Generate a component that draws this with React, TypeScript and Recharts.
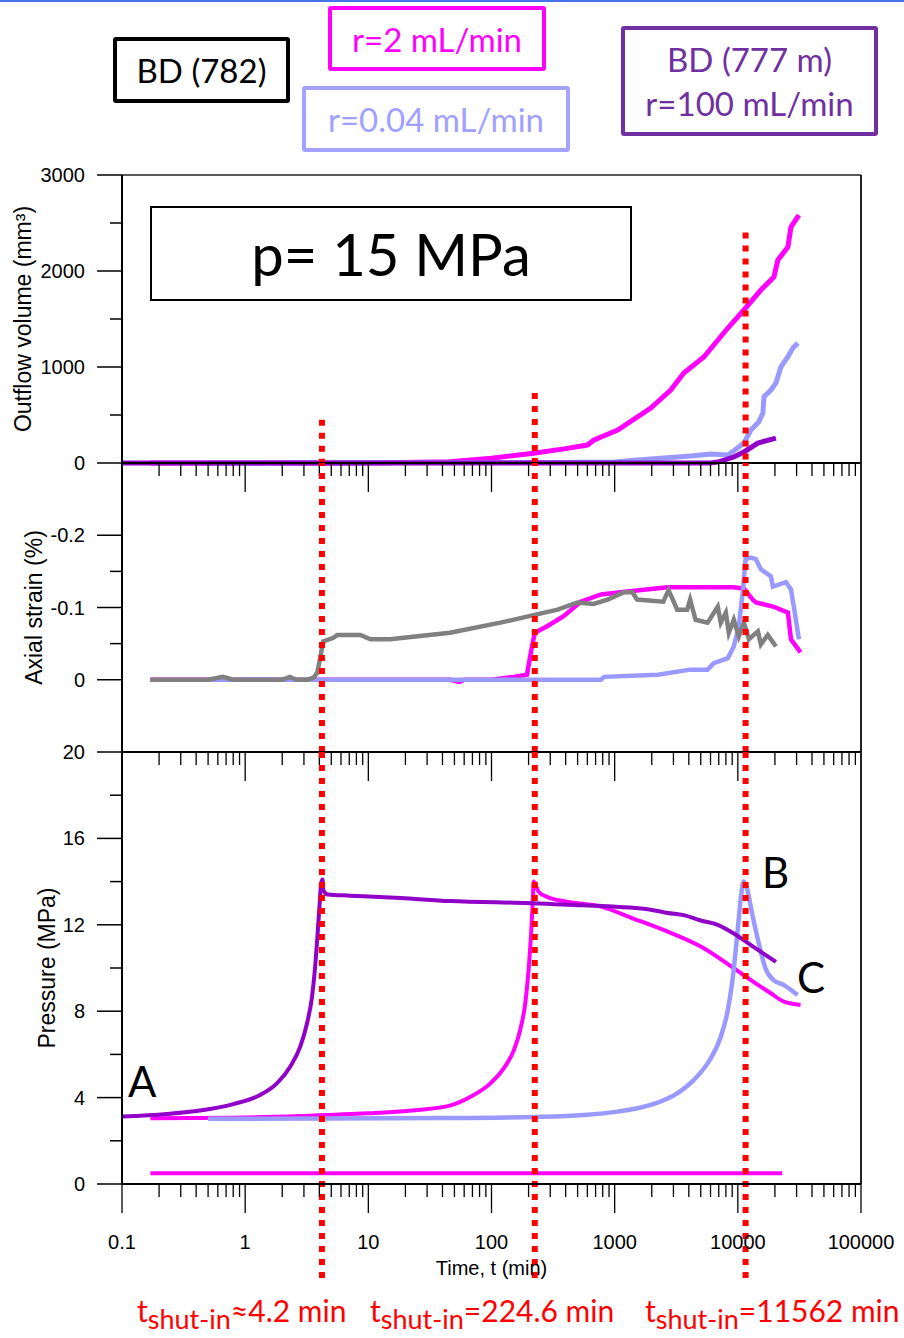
import React from 'react';
import { LineChart, Line, XAxis, YAxis, ReferenceLine } from 'recharts';

// time axis (min), log scale
const decades = [0.1, 1, 10, 100, 1000, 10000, 100000];
const xTickLabels = ['0.1', '1', '10', '100', '1000', '10000', '100000'];

// shut-in times and where each red marker starts in the outflow panel (mm3)
const shutInTimes = [4.2, 224.6, 11562];
const shutInTops = [450, 730, 2400];

// y ticks
const outflowTicks = [0, 500, 1000, 1500, 2000, 2500, 3000];
const outflowMajor = [0, 1000, 2000, 3000];
const outflowLabels = ['0', '1000', '2000', '3000'];
const strainTicks = [-0.2, -0.15, -0.1, -0.05, 0];
const strainMajor = [-0.2, -0.1, 0];
const strainLabels = ['-0.2', '-0.1', '0'];
const pressureTicks = [0, 2, 4, 6, 8, 10, 12, 14, 16, 18, 20];
const pressureMajor = [0, 4, 8, 12, 16, 20];
const pressureLabels = ['0', '4', '8', '12', '16', '20'];

// outflow volume (mm3) vs t
const outflowR2 = [[0.17, 0], [10, 0], [46, 14], [100, 50], [219, 101], [400, 150], [600, 187], [680, 240], [1058, 344], [1963, 573], [2852, 760], [3640, 937], [5295, 1104], [8300, 1406], [11200, 1594], [15380, 1802], [19630, 1937], [21150, 2115], [25500, 2250], [27000, 2458], [31330, 2583]];
const outflowR004 = [[0.5, 0], [300, 5], [1000, 10], [1427, 30], [2700, 55], [4150, 73], [6030, 94], [8300, 83], [9470, 135], [11200, 208], [12760, 344], [14820, 430], [15970, 520], [16300, 690], [18540, 760], [20380, 833], [22400, 1003], [25500, 1107], [28000, 1198], [30760, 1250]];
const outflowR100 = [[0.1, 0], [6000, 0], [6870, 10], [9270, 62], [11200, 115], [14550, 208], [20380, 260]];

// axial strain (%) vs t
const strainBD782 = [[0.17, 0], [0.5, 0], [0.66, -0.004], [0.8, 0], [2.0, 0], [2.3, -0.004], [2.6, 0], [3.2, 0], [3.6, -0.003], [3.85, -0.01], [4.06, -0.03], [4.3, -0.053], [5.2, -0.058], [5.6, -0.062], [8.6, -0.062], [10.4, -0.056], [15, -0.056], [46, -0.065], [118, -0.079], [344, -0.097], [500, -0.107], [675, -0.105], [877, -0.111], [1183, -0.121], [1390, -0.121], [1520, -0.111], [2480, -0.108], [2740, -0.124], [3220, -0.097], [3880, -0.097], [4100, -0.111], [4540, -0.083], [5680, -0.079], [6870, -0.101], [7270, -0.079], [7990, -0.093], [8450, -0.065], [9270, -0.083], [10180, -0.06], [11200, -0.079], [12300, -0.056], [14550, -0.067], [15380, -0.049], [17500, -0.062], [20380, -0.046]];
const strainR2 = [[0.17, 0], [46, 0], [55, 0.003], [60, 0], [100, 0], [151, -0.004], [194, -0.007], [213, -0.046], [225, -0.065], [283, -0.074], [385, -0.088], [530, -0.108], [775, -0.118], [1260, -0.122], [2700, -0.128], [9270, -0.128], [11200, -0.126], [13200, -0.111], [14000, -0.107], [19600, -0.101], [25500, -0.093], [27000, -0.056], [32300, -0.038]];
const strainR004 = [[0.5, 0], [775, 0], [820, -0.004], [2240, -0.007], [4100, -0.014], [5680, -0.014], [6380, -0.023], [8300, -0.03], [9270, -0.046], [10180, -0.074], [10950, -0.121], [11560, -0.167], [12760, -0.169], [14000, -0.167], [15380, -0.153], [18540, -0.143], [19260, -0.129], [24600, -0.135], [27000, -0.125], [28500, -0.101], [31330, -0.056]];

// pressure (MPa) vs t
const pressureR100 = [[0.1, 3.12], [0.23, 3.24], [0.43, 3.4], [0.8, 3.7], [1.32, 4.12], [1.81, 4.66], [2.32, 5.43], [2.8, 6.36], [3.18, 7.44], [3.49, 8.67], [3.7, 10.06], [3.86, 11.45], [4.01, 12.84], [4.14, 13.92], [4.25, 14.1], [4.3, 13.6], [4.7, 13.4], [7.1, 13.35], [18.2, 13.24], [46, 13.1], [206, 13.0], [560, 12.9], [1960, 12.7], [2700, 12.55], [3640, 12.45], [5000, 12.2], [6870, 12.0], [9270, 11.6], [12760, 11.06], [20380, 10.28]];
const pressureR2 = [[0.17, 3.04], [0.8, 3.07], [2.8, 3.15], [9.8, 3.27], [25, 3.43], [46, 3.63], [67.5, 4.04], [98, 4.66], [126, 5.36], [152, 6.2], [171, 7.13], [188, 8.37], [200, 9.9], [209, 11.45], [216, 13.0], [220, 14.0], [241, 13.53], [281, 13.3], [407, 13.07], [775, 12.84], [1400, 12.3], [2700, 11.68], [5000, 10.99], [9270, 9.99], [12760, 9.44], [18540, 8.83], [23700, 8.44], [32300, 8.29]];
const pressureR004 = [[0.5, 3.02], [46, 3.05], [219, 3.1], [560, 3.19], [1058, 3.35], [1960, 3.66], [3220, 4.2], [4380, 4.81], [6030, 5.82], [7270, 6.82], [8190, 7.9], [8980, 9.29], [9560, 10.68], [10150, 12.22], [10600, 13.3], [11130, 14.0], [11850, 13.69], [13050, 12.53], [14800, 11.14], [16750, 9.99], [19500, 9.44], [23700, 9.21], [30500, 8.75]];
const pressureR2Base = [[0.17, 0.5], [22900, 0.5]];

const MAGENTA = '#ff00ff';
const LIGHT = '#9999ff';
const PURPLE = '#9000c8';
const GREY = '#808080';
const RED = '#ff0000';
const AXIS_FONT = '"Liberation Sans", Arial, sans-serif';
const BOX_FONT = 'Lato, "Open Sans", sans-serif';

const pts = (arr: number[][]) => arr.map(([t, v]) => ({ t, v }));

// minor ticks 1..9 per decade
const xTicks: number[] = [];
decades.forEach((d, i) => {
  if (i === decades.length - 1) { xTicks.push(d); return; }
  for (let k = 1; k < 10; k++) xTicks.push(+(d * k).toPrecision(3));
});

const XTick = ({ x, y, payload, showLabels }: any) => {
  const idx = decades.findIndex((d) => Math.abs(d - payload.value) < 1e-9 * d);
  const major = idx >= 0;
  return (
    <g>
      <line x1={x} x2={x} y1={y} y2={y + (major ? 29 : 13)} stroke="#000" strokeWidth={1.3} />
      {showLabels && major && (
        <text x={x} y={y + 58} textAnchor="middle" dominantBaseline="central" fontSize={20} fontFamily={AXIS_FONT} fill="#000">
          {xTickLabels[idx]}
        </text>
      )}
    </g>
  );
};

const YTick = ({ x, y, payload, majors, labels }: any) => {
  const idx = majors.findIndex((m: number) => Math.abs(m - payload.value) < 1e-9);
  const major = idx >= 0;
  return (
    <g>
      <line x1={x - (major ? 25 : 12)} x2={x} y1={y} y2={y} stroke="#000" strokeWidth={1.5} />
      {major && (
        <text x={x - 37} y={y} textAnchor="end" dominantBaseline="central" fontSize={20} fontFamily={AXIS_FONT} fill="#000">
          {labels[idx]}
        </text>
      )}
    </g>
  );
};

const VTitle = ({ viewBox, text, cx }: any) => {
  const cy = viewBox ? viewBox.y + viewBox.height / 2 : 0;
  return (
    <text x={cx} y={cy} transform={`rotate(-90 ${cx} ${cy})`} textAnchor="middle" dominantBaseline="central" fontSize={23} fontFamily={AXIS_FONT} fill="#000">
      {text}
    </text>
  );
};

const XTitle = ({ viewBox }: any) => {
  const cx = viewBox ? viewBox.x + viewBox.width / 2 : 0;
  const cy = viewBox ? viewBox.y + 84 : 0;
  return (
    <text x={cx} y={cy} textAnchor="middle" dominantBaseline="central" fontSize={20} fontFamily={AXIS_FONT} fill="#000">
      Time, t (min)
    </text>
  );
};

const axisLine = { stroke: '#000', strokeWidth: 2 };
const borderLine = { stroke: '#222', strokeWidth: 2 };

const timeAxis = (showLabels: boolean, height: number) => (
  <XAxis
    dataKey="t"
    type="number"
    scale="log"
    domain={[0.1, 100000]}
    allowDataOverflow
    ticks={xTicks}
    interval={0}
    tick={<XTick showLabels={showLabels} />}
    tickLine={false}
    tickSize={0}
    tickMargin={0}
    axisLine={axisLine}
    height={height}
    label={showLabels ? <XTitle /> : undefined}
  />
);

const redDots = { stroke: RED, strokeWidth: 6, strokeDasharray: '6 7' };

const OutflowPanel = () => (
  <LineChart width={904} height={340} margin={{ top: 15, right: 43, bottom: 0, left: 0 }}>
    {timeAxis(false, 37)}
    <YAxis
      type="number"
      domain={[0, 3000]}
      ticks={outflowTicks}
      interval={0}
      tick={<YTick majors={outflowMajor} labels={outflowLabels} />}
      tickLine={false}
      tickSize={0}
      tickMargin={0}
      axisLine={axisLine}
      width={122}
      label={<VTitle text="Outflow volume (mm³)" cx={23} />}
    />
    <ReferenceLine y={3000} {...borderLine} strokeWidth={1.5} />
    <ReferenceLine x={100000} {...borderLine} />
    <Line data={pts(outflowR2)} dataKey="v" stroke={MAGENTA} strokeWidth={5} dot={false} isAnimationActive={false} />
    <Line data={pts(outflowR004)} dataKey="v" stroke={LIGHT} strokeWidth={5} dot={false} isAnimationActive={false} />
    <Line data={pts(outflowR100)} dataKey="v" stroke={PURPLE} strokeWidth={5} dot={false} isAnimationActive={false} />
    {shutInTimes.map((t, i) => (
      <ReferenceLine key={t} segment={[{ x: t, y: shutInTops[i] }, { x: t, y: 0 }]} {...redDots} />
    ))}
  </LineChart>
);

const StrainPanel = () => (
  <LineChart width={904} height={336} margin={{ top: 10, right: 43, bottom: 0, left: 0 }}>
    {timeAxis(false, 37)}
    <YAxis
      type="number"
      domain={[-0.3, 0.1]}
      reversed
      allowDataOverflow
      ticks={strainTicks}
      interval={0}
      tick={<YTick majors={strainMajor} labels={strainLabels} />}
      tickLine={false}
      tickSize={0}
      tickMargin={0}
      axisLine={axisLine}
      width={122}
      label={<VTitle text="Axial strain (%)" cx={34} />}
    />
    <ReferenceLine x={100000} {...borderLine} />
    <Line data={pts(strainR2)} dataKey="v" stroke={MAGENTA} strokeWidth={4.5} dot={false} isAnimationActive={false} />
    <Line data={pts(strainR004)} dataKey="v" stroke={LIGHT} strokeWidth={4.5} dot={false} isAnimationActive={false} />
    <Line data={pts(strainBD782)} dataKey="v" stroke={GREY} strokeWidth={4.5} dot={false} isAnimationActive={false} />
    {shutInTimes.map((t) => (
      <ReferenceLine key={t} x={t} {...redDots} />
    ))}
  </LineChart>
);

const PressurePanel = () => (
  <LineChart width={904} height={596} margin={{ top: 10, right: 43, bottom: 0, left: 0 }}>
    {timeAxis(true, 154)}
    <YAxis
      type="number"
      domain={[0, 20]}
      ticks={pressureTicks}
      interval={0}
      tick={<YTick majors={pressureMajor} labels={pressureLabels} />}
      tickLine={false}
      tickSize={0}
      tickMargin={0}
      axisLine={axisLine}
      width={122}
      label={<VTitle text="Pressure (MPa)" cx={47} />}
    />
    <ReferenceLine x={100000} {...borderLine} />
    <Line data={pts(pressureR2Base)} dataKey="v" stroke={MAGENTA} strokeWidth={4} dot={false} isAnimationActive={false} />
    <Line data={pts(pressureR2)} dataKey="v" type="monotone" stroke={MAGENTA} strokeWidth={4} dot={false} isAnimationActive={false} />
    <Line data={pts(pressureR004)} dataKey="v" type="monotone" stroke={LIGHT} strokeWidth={4.5} dot={false} isAnimationActive={false} />
    <Line data={pts(pressureR100)} dataKey="v" type="monotone" stroke={PURPLE} strokeWidth={4} dot={false} isAnimationActive={false} />
    {shutInTimes.map((t) => (
      <ReferenceLine key={t} segment={[{ x: t, y: 20 }, { x: t, y: -4.5 }]} ifOverflow="visible" {...redDots} />
    ))}
  </LineChart>
);

const boxStyle = (left: number, top: number, width: number, height: number, color: string, textColor: string): React.CSSProperties => ({
  position: 'absolute',
  left,
  top,
  width,
  height,
  boxSizing: 'border-box',
  border: `4px solid ${color}`,
  borderRadius: 3,
  color: textColor,
  fontFamily: BOX_FONT,
  fontSize: 33,
  display: 'flex',
  flexDirection: 'column',
  alignItems: 'center',
  justifyContent: 'center',
  lineHeight: '44px',
  whiteSpace: 'nowrap',
});

const letter = (left: number, top: number): React.CSSProperties => ({
  position: 'absolute',
  left,
  top,
  fontFamily: BOX_FONT,
  fontSize: 42,
  lineHeight: 1,
  color: '#000',
});

const shutLabel = (left: number): React.CSSProperties => ({
  position: 'absolute',
  left,
  top: 1295,
  fontFamily: BOX_FONT,
  fontSize: 30,
  lineHeight: 1,
  color: RED,
  whiteSpace: 'nowrap',
});

const subStyle: React.CSSProperties = { fontSize: 27, position: 'relative', top: 7 };

export default function App() {
  return (
    <div style={{ position: 'absolute', left: 0, top: 0, width: 904, height: 1338, background: '#fff', overflow: 'hidden' }}>
      <div style={{ position: 'absolute', left: 0, top: 0, width: 904, height: 2, background: '#4472e8' }} />

      <div style={boxStyle(113, 37, 177, 66, '#000', '#000')}>BD (782)</div>
      <div style={boxStyle(328, 6, 218, 65, MAGENTA, MAGENTA)}>r=2 mL/min</div>
      <div style={boxStyle(302, 86, 268, 66, '#a3a3ff', '#a0a0ff')}>r=0.04 mL/min</div>
      <div style={boxStyle(621, 26, 257, 110, '#7030a0', '#7030a0')}>
        <span>BD (777 m)</span>
        <span>r=100 mL/min</span>
      </div>

      <div style={{ position: 'absolute', left: 0, top: 160 }}>
        <OutflowPanel />
      </div>
      <div style={{ position: 'absolute', left: 0, top: 453 }}>
        <StrainPanel />
      </div>
      <div style={{ position: 'absolute', left: 0, top: 742 }}>
        <PressurePanel />
      </div>

      <div
        style={{
          position: 'absolute', left: 150, top: 206, width: 482, height: 95, boxSizing: 'border-box',
          border: '2px solid #000', background: '#fff', display: 'flex', alignItems: 'center', justifyContent: 'center',
          fontFamily: BOX_FONT, fontSize: 58, color: '#000',
        }}
      >
        p= 15 MPa
      </div>

      <div style={letter(128, 1060)}>A</div>
      <div style={letter(762, 851)}>B</div>
      <div style={letter(797, 956)}>C</div>

      <div style={shutLabel(137)}>t<span style={subStyle}>shut-in</span>≈4.2 min</div>
      <div style={shutLabel(370)}>t<span style={subStyle}>shut-in</span>=224.6 min</div>
      <div style={shutLabel(645)}>t<span style={subStyle}>shut-in</span>=11562 min</div>
    </div>
  );
}
